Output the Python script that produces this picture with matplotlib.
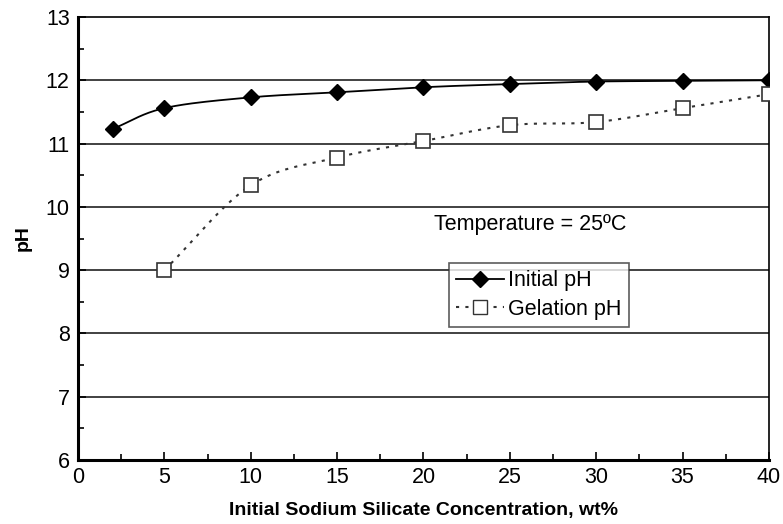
import matplotlib
matplotlib.use('Agg')
import matplotlib.pyplot as plt
import numpy as np
from matplotlib.ticker import MultipleLocator

plt.rcParams['font.family'] = ['Liberation Sans', 'DejaVu Sans']

# pH vs sodium silicate concentration
conc_initial = [2, 5, 10, 15, 20, 25, 30, 35, 40]
ph_initial = [11.23, 11.56, 11.73, 11.81, 11.89, 11.94, 11.98, 11.99, 12.0]

conc_gel = [5, 10, 15, 20, 25, 30, 35, 40]
ph_gel = [9.0, 10.34, 10.78, 11.04, 11.29, 11.34, 11.56, 11.78]


def smooth(x, y, n=20):
    # Catmull-Rom curve through the points (like a spreadsheet smoothed line)
    x = np.asarray(x, float)
    y = np.asarray(y, float)
    px = np.concatenate([[2 * x[0] - x[1]], x, [2 * x[-1] - x[-2]]])
    py = np.concatenate([[2 * y[0] - y[1]], y, [2 * y[-1] - y[-2]]])
    xs, ys = [], []
    t = np.linspace(0, 1, n, endpoint=False)
    for i in range(1, len(px) - 2):
        for arr, out in ((px, xs), (py, ys)):
            p0, p1, p2, p3 = arr[i - 1:i + 3]
            out.extend(0.5 * (2 * p1 + (-p0 + p2) * t
                              + (2 * p0 - 5 * p1 + 4 * p2 - p3) * t ** 2
                              + (-p0 + 3 * p1 - 3 * p2 + p3) * t ** 3))
    xs.append(x[-1])
    ys.append(y[-1])
    return np.array(xs), np.array(ys)


fig = plt.figure(figsize=(7.83, 5.24), dpi=100)
ax = fig.add_axes([0.0996, 0.122, 0.8824, 0.8456])

for yv in range(7, 13):
    ax.axhline(yv, color='#333333', lw=1.3, zorder=1)

sx, sy = smooth(conc_initial, ph_initial)
ax.plot(sx, sy, color='black', lw=1.3, zorder=2)
ax.plot(conc_initial, ph_initial, ls='none', marker='D', ms=8,
        color='black', zorder=3)

gx, gy = smooth(conc_gel, ph_gel)
ax.plot(gx, gy, color='#333333', lw=1.5, ls=(0, (1.5, 3)), zorder=2)
ax.plot(conc_gel, ph_gel, ls='none', marker='s', ms=10, mfc='white',
        mec='#333333', mew=1.2, zorder=3)

# legend handles combine line + marker
h1, = ax.plot([], [], color='black', lw=1.3, marker='D', ms=8)
h2, = ax.plot([], [], color='#333333', lw=1.5, ls=(0, (1.5, 3)), marker='s',
              ms=10, mfc='white', mec='#333333')
leg = ax.legend([h1, h2], ['Initial pH', 'Gelation pH'],
                loc='upper left', bbox_to_anchor=(0.521, 0.47),
                fontsize=15.5, frameon=True, fancybox=False,
                edgecolor='#333333', handlelength=2.2, handletextpad=0.2,
                borderpad=0.35, labelspacing=0.35)
leg.get_frame().set_linewidth(1.2)

ax.text(0.515, 0.532, 'Temperature = 25ºC', transform=ax.transAxes,
        fontsize=15.5, ha='left', va='center')

ax.set_xlim(0, 40)
ax.set_ylim(6, 13)
ax.xaxis.set_major_locator(MultipleLocator(5))
ax.xaxis.set_minor_locator(MultipleLocator(2.5))
ax.yaxis.set_major_locator(MultipleLocator(1))
ax.yaxis.set_minor_locator(MultipleLocator(0.5))
ax.tick_params(which='both', direction='in', labelsize=15.5, width=1.2)
ax.tick_params(which='major', length=6)
ax.tick_params(which='minor', length=4)
ax.tick_params(axis='x', pad=5)
ax.tick_params(axis='y', pad=6)

for s in ax.spines.values():
    s.set_linewidth(1.2)
ax.spines['left'].set_linewidth(2.2)
ax.spines['bottom'].set_linewidth(2.2)

ax.set_xlabel('Initial Sodium Silicate Concentration, wt%', fontsize=14,
              fontweight='bold', labelpad=10)
ax.set_ylabel('pH', fontsize=14, fontweight='bold', labelpad=10)

fig.savefig('out.png', dpi=100)
